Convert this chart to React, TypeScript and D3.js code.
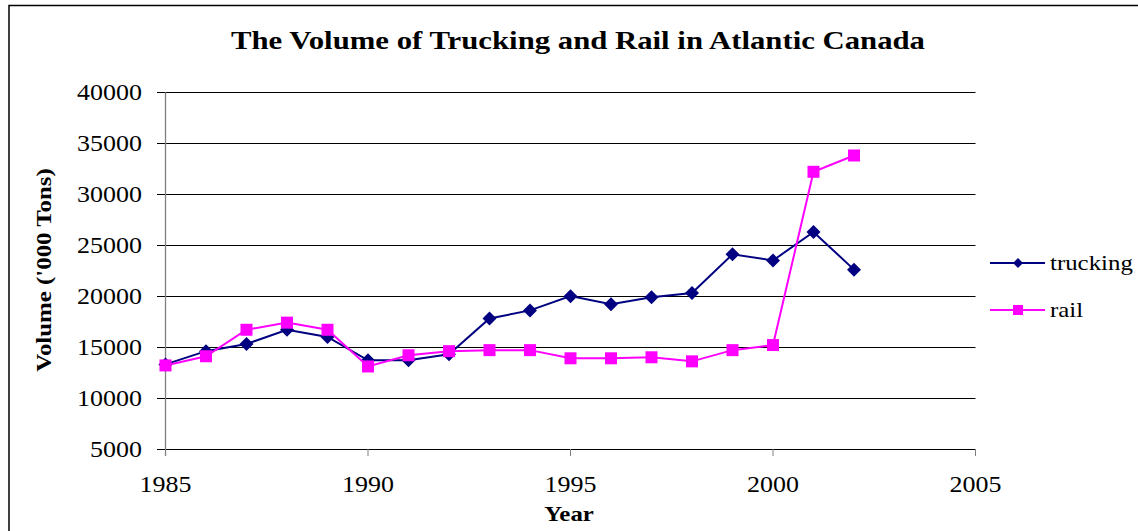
import React from "react";
import * as d3 from "d3";

const years = [1985, 1986, 1987, 1988, 1989, 1990, 1991, 1992, 1993, 1994, 1995, 1996, 1997, 1998, 1999, 2000, 2001, 2002];
const trucking = [13300, 14600, 15300, 16700, 16000, 13700, 13700, 14300, 17800, 18600, 20000, 19200, 19900, 20300, 24100, 23500, 26300, 22600];
const rail = [13200, 14100, 16700, 17400, 16700, 13100, 14200, 14600, 14700, 14700, 13900, 13900, 14000, 13600, 14700, 15200, 32200, 33800];
const yTicks = [5000, 10000, 15000, 20000, 25000, 30000, 35000, 40000];
const xTicks = [1985, 1990, 1995, 2000, 2005];

const W = 1138;
const H = 531;
const FONT = "'Liberation Serif', 'Times New Roman', serif";
const SX = 1.13;

export default function App() {
  const x = d3.scaleLinear().domain([1985, 2005]).range([165.5, 975.5]);
  const y = d3.scaleLinear().domain([5000, 40000]).range([449, 92.3]);
  const line = d3
    .line<number>()
    .x((_, i) => x(years[i]))
    .y((d) => y(d));

  const diamond = (cx: number, cy: number, r: number) =>
    `M${cx},${cy - r}L${cx + r},${cy}L${cx},${cy + r}L${cx - r},${cy}Z`;

  return (
    <svg width={W} height={H} style={{ position: "absolute", left: 0, top: 0, background: "#fff" }} fontFamily={FONT}>
      <rect x={0} y={0} width={W} height={H} fill="#fff" />
      <rect x={9} y={5.5} width={W + 20} height={H + 20} fill="none" stroke="#000" strokeWidth={1.5} />
      <text x={578} y={48.5} textAnchor="middle" fontWeight="bold" fontSize={25} textLength={694} lengthAdjust="spacingAndGlyphs">
        The Volume of Trucking and Rail in Atlantic Canada
      </text>
      {/* gridlines */}
      {yTicks.map((t) => (
        <line key={"g" + t} x1={157} x2={x(2005)} y1={Math.round(y(t)) + 0.5} y2={Math.round(y(t)) + 0.5} stroke="#000" strokeWidth={1} />
      ))}
      {/* y axis */}
      <line x1={x(1985)} x2={x(1985)} y1={y(40000)} y2={456} stroke="#808080" strokeWidth={1.3} />
      {xTicks.map((t) => (
        <line key={"xt" + t} x1={x(t)} x2={x(t)} y1={y(5000)} y2={456} stroke="#808080" strokeWidth={1} />
      ))}
      {yTicks.map((t) => (
        <text key={"yl" + t} transform={`translate(142,${y(t)}) scale(${SX},1)`} textAnchor="end" dy="0.34em" fontSize={23}>
          {t}
        </text>
      ))}
      {xTicks.map((t) => (
        <text key={"xl" + t} transform={`translate(${x(t)},${484.5}) scale(${SX},1)`} textAnchor="middle" dy="0.34em" fontSize={23}>
          {t}
        </text>
      ))}
      <text transform={`translate(569,521) scale(${SX},1)`} textAnchor="middle" fontWeight="bold" fontSize={22}>
        Year
      </text>
      <text transform={`translate(51,270) rotate(-90) scale(${SX},1)`} textAnchor="middle" fontWeight="bold" fontSize={22}>
        Volume ('000 Tons)
      </text>
      {/* series */}
      <path d={line(trucking) || ""} fill="none" stroke="#000080" strokeWidth={2} />
      {trucking.map((v, i) => (
        <path key={"tm" + i} d={diamond(x(years[i]), y(v), 7)} fill="#000080" />
      ))}
      <path d={line(rail) || ""} fill="none" stroke="#FF00FF" strokeWidth={2} />
      {rail.map((v, i) => (
        <rect key={"rm" + i} x={x(years[i]) - 6} y={y(v) - 6} width={12} height={12} fill="#FF00FF" />
      ))}
      {/* legend */}
      <line x1={990} x2={1045} y1={263} y2={263} stroke="#000080" strokeWidth={2} />
      <path d={diamond(1018, 263, 5)} fill="#000080" />
      <text transform={`translate(1050,263) scale(${SX},1)`} dy="0.32em" fontSize={22}>
        trucking
      </text>
      <line x1={990} x2={1045} y1={310} y2={310} stroke="#FF00FF" strokeWidth={2} />
      <rect x={1013} y={305} width={10} height={10} fill="#FF00FF" />
      <text transform={`translate(1050,310) scale(${SX},1)`} dy="0.32em" fontSize={22}>
        rail
      </text>
    </svg>
  );
}
